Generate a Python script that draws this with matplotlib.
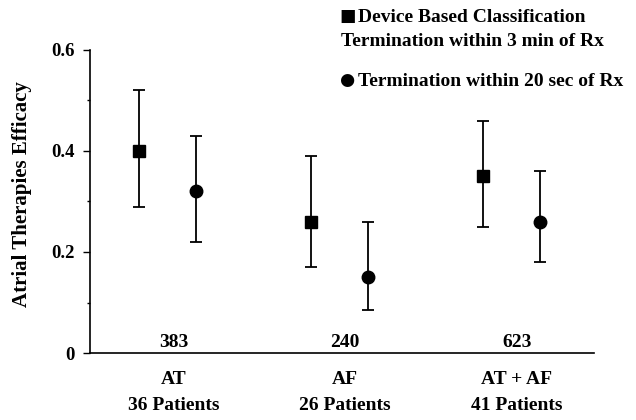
import matplotlib
matplotlib.use('Agg')
import matplotlib.pyplot as plt
import numpy as np

plt.rcParams['font.family'] = ['Liberation Serif', 'DejaVu Serif']
plt.rcParams['font.weight'] = 'bold'

groups = ['AT', 'AF', 'AT + AF']
patients = ['36 Patients', '26 Patients', '41 Patients']
episodes = ['383', '240', '623']

# device based classification (3 min)
dev_mean = [0.40, 0.26, 0.35]
dev_low = [0.29, 0.17, 0.25]
dev_high = [0.52, 0.39, 0.46]

# termination within 20 sec
sec_mean = [0.32, 0.15, 0.26]
sec_low = [0.22, 0.085, 0.18]
sec_high = [0.43, 0.26, 0.36]

x = np.arange(1, len(groups) + 1)
offset = 0.165

fig = plt.figure(figsize=(6.36, 4.2), dpi=100)
ax = fig.add_axes([0.1415, 0.1595, 0.792, 0.7215])

for xs, m, lo, hi, mk in [(x - offset, dev_mean, dev_low, dev_high, 's'),
                          (x + offset, sec_mean, sec_low, sec_high, 'o')]:
    m = np.array(m)
    yerr = [m - np.array(lo), np.array(hi) - m]
    ax.errorbar(xs, m, yerr=yerr, fmt=mk, color='black', ms=9,
                elinewidth=1.3, capsize=4, capthick=1.3)

ax.set_xlim(0.547, 3.48)
ax.set_ylim(0, 0.6)
ax.set_yticks([0, 0.2, 0.4, 0.6])
ax.set_yticklabels(['0', '0.2', '0.4', '0.6'])
ax.set_yticks([0.1, 0.3, 0.5], minor=True)
ax.set_xticks([])
ax.tick_params(axis='y', which='major', length=5, width=1, pad=6, labelsize=13.5)
ax.tick_params(axis='y', which='minor', length=2.5, width=1)
for s in ['top', 'right']:
    ax.spines[s].set_visible(False)
for s in ['left', 'bottom']:
    ax.spines[s].set_linewidth(1.2)

ax.set_ylabel('Atrial Therapies Efficacy', fontsize=15, fontweight='bold')
ax.yaxis.set_label_coords(-0.115, 0.525)

for xi, n, g, p in zip(x, episodes, groups, patients):
    ax.annotate(n, xy=(xi, 0.012), xycoords='data',
                xytext=(4, 0), textcoords='offset points',
                ha='center', va='baseline', fontsize=14)
    ax.annotate(g, xy=(xi, 0), xycoords=('data', 'axes fraction'),
                xytext=(4, -19), textcoords='offset points',
                ha='center', va='center', fontsize=14)
    ax.annotate(p, xy=(xi, 0), xycoords=('data', 'axes fraction'),
                xytext=(4, -37.5), textcoords='offset points',
                ha='center', va='center', fontsize=14)

# legend block, symbols drawn as glyphs
fig.text(339 / 636, 1 - 16 / 420, '\u25a0', ha='left', va='center',
         fontsize=12.5, family='DejaVu Sans')
fig.text(358 / 636, 1 - 18 / 420, 'Device Based Classification',
         ha='left', va='center', fontsize=14)
fig.text(341 / 636, 1 - 42 / 420, 'Termination within 3 min of Rx',
         ha='left', va='center', fontsize=14)
fig.text(339 / 636, 1 - 80 / 420, '\u25cf', ha='left', va='center',
         fontsize=12.5, family='DejaVu Sans')
fig.text(358 / 636, 1 - 82 / 420, 'Termination within 20 sec of Rx',
         ha='left', va='center', fontsize=14)

fig.savefig('out.png', dpi=100)
